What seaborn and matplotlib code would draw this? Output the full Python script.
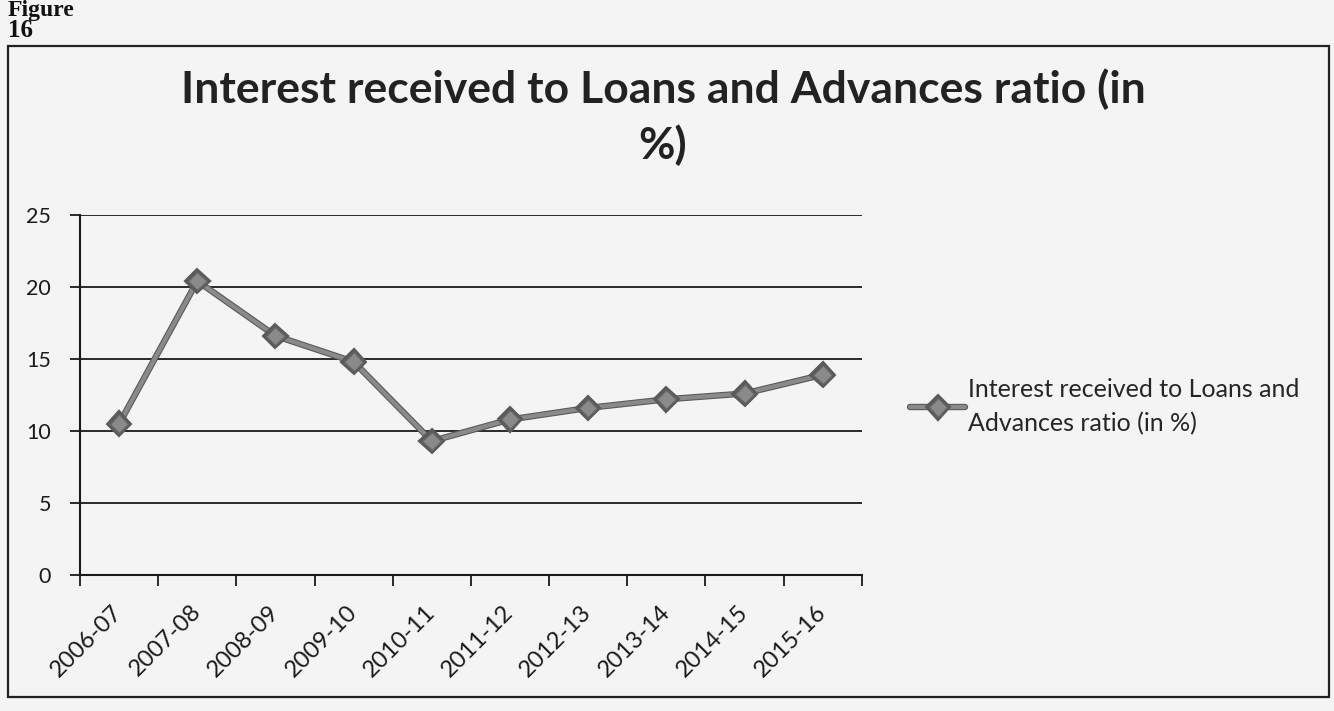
import matplotlib
matplotlib.use("Agg")
import matplotlib.pyplot as plt
import matplotlib.patheffects as pe
from matplotlib.patches import Rectangle
import seaborn as sns
import pandas as pd

years = ["2006-07", "2007-08", "2008-09", "2009-10", "2010-11",
         "2011-12", "2012-13", "2013-14", "2014-15", "2015-16"]
ratio = [10.5, 20.4, 16.6, 14.8, 9.3, 10.8, 11.6, 12.2, 12.6, 13.9]
y_ticks = [0, 5, 10, 15, 20, 25]
title = "Interest received to Loans and Advances ratio (in\n%)"
series_label = "Interest received to Loans and\nAdvances ratio (in %)"

sns.set_theme(style="white")
plt.rcParams["font.family"] = ["Lato", "DejaVu Sans"]

bg = "#f4f4f4"
ink = "#1a1a1a"
fig = plt.figure(figsize=(13.34, 7.11), dpi=100, facecolor=bg)
ax = fig.add_axes([0.060, 0.191, 0.586, 0.507])
ax.set_facecolor("none")

df = pd.DataFrame({"x": range(len(years)), "ratio": ratio})
line_gray = "#8a8a8a"
sns.lineplot(data=df, x="x", y="ratio", ax=ax, color=line_gray, linewidth=3.0,
             marker="D", markersize=9.5, markerfacecolor=line_gray,
             markeredgecolor="#666666", markeredgewidth=1.0,
             label=series_label,
             path_effects=[pe.Stroke(linewidth=4.6, foreground="#5a5a5a"), pe.Normal()])

ax.set_xlim(-0.5, len(years) - 0.5)
ax.set_ylim(0, 25)
ax.set_yticks(y_ticks)
ax.set_yticklabels([str(v) for v in y_ticks], fontsize=15.5, color=ink)
for v in y_ticks[1:]:
    ax.axhline(v, color=ink, linewidth=1.3, zorder=0)

ax.set_xticks(range(len(years)))
ax.set_xticklabels(years, rotation=45, ha="right", va="center",
                   rotation_mode="anchor", fontsize=17, color=ink)
ax.set_xticks([i - 0.5 for i in range(len(years) + 1)], minor=True)
ax.tick_params(axis="x", which="major", length=0, pad=24)
ax.tick_params(axis="x", which="minor", length=8, width=1.3, color=ink, bottom=True)
ax.tick_params(axis="y", which="major", length=7, width=1.3, color=ink, left=True, pad=14)

for side in ["top", "right"]:
    ax.spines[side].set_visible(False)
for side in ["left", "bottom"]:
    ax.spines[side].set_color(ink)
    ax.spines[side].set_linewidth(1.5)
ax.set_xlabel("")
ax.set_ylabel("")

ax.legend(loc="center left", bbox_to_anchor=(0.675, 0.428), bbox_transform=fig.transFigure,
          frameon=False, fontsize=18, handlelength=2.2, handletextpad=0.1,
          borderaxespad=0)
ax.get_legend().get_texts()[0].set_linespacing(1.6)

fig.text(0.497, 0.835, title, ha="center", va="center", fontsize=32,
         fontweight="bold", color="#222222", linespacing=1.4)

# chart frame and figure caption
fig.patches.append(Rectangle((0.006, 0.02), 0.99, 0.915, transform=fig.transFigure,
                             fill=False, edgecolor="#222222", linewidth=1.6))
fig.text(0.006, 0.978, "Figure", ha="left", va="baseline", fontsize=17,
         fontweight="bold", family="Liberation Serif", color="#111111")
fig.text(0.006, 0.948, "16", ha="left", va="baseline", fontsize=18,
         fontweight="bold", family="Liberation Serif", color="#111111")

fig.savefig("out.png", dpi=100, facecolor=bg)
